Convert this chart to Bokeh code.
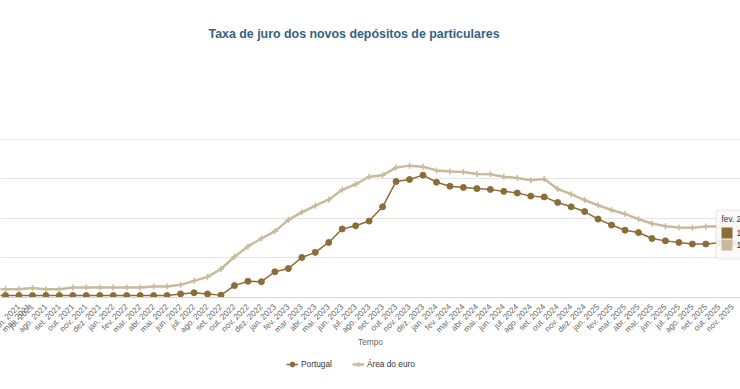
import math
from bokeh.plotting import figure
from bokeh.layouts import column
from bokeh.models import Range1d, FixedTicker, Legend, LegendItem, Label, BoxAnnotation
from bokeh.embed import file_html
from bokeh.resources import INLINE

# Monthly series, April 2021 to February 2026 (%)
month_abbr = ["jan.", "fev.", "mar.", "abr.", "mai.", "jun.",
              "jul.", "ago.", "set.", "out.", "nov.", "dez."]
periods = [(y, m) for y in range(2021, 2027) for m in range(12)]
periods = [p for p in periods if (2021, 3) <= p <= (2026, 1)]
months = [f"{month_abbr[m]} {y}" for (y, m) in periods]

portugal = [
    0.05, 0.05, 0.05, 0.05, 0.05, 0.05, 0.05, 0.05, 0.05,
    0.05, 0.05, 0.05, 0.05, 0.05, 0.09, 0.12, 0.09, 0.06, 0.30, 0.41, 0.40,
    0.65, 0.73, 1.01, 1.14, 1.39, 1.73, 1.81, 1.93, 2.29, 2.93, 2.98, 3.09,
    2.91, 2.81, 2.78, 2.75, 2.73, 2.68, 2.64, 2.56, 2.54, 2.40, 2.29, 2.17,
    1.98, 1.83, 1.70, 1.64, 1.49, 1.43, 1.39, 1.35, 1.35, 1.38, 1.37, 1.36,
    1.35, 1.34,
]
area_euro = [
    0.21, 0.21, 0.21, 0.24, 0.21, 0.21, 0.25, 0.25, 0.25,
    0.25, 0.25, 0.25, 0.28, 0.28, 0.32, 0.42, 0.52, 0.72, 1.03, 1.29, 1.49,
    1.67, 1.96, 2.15, 2.32, 2.47, 2.72, 2.86, 3.05, 3.09, 3.28, 3.33, 3.30,
    3.21, 3.18, 3.17, 3.12, 3.11, 3.05, 3.02, 2.96, 2.99, 2.74, 2.61, 2.46,
    2.33, 2.21, 2.11, 1.98, 1.87, 1.80, 1.77, 1.76, 1.79, 1.80, 1.79, 1.78,
    1.77, 1.76,
]
series_names = ["Portugal", "Área do euro"]
grid_values = [1, 2, 3, 4]

idx = list(range(len(months)))

W, H = 740, 389
LEGEND_H = 40
MAIN_H = H - LEGEND_H
FRAME_H = 297
PX_PER_MONTH = 13.468
PX_PER_UNIT = 39.6
x_start = 1 - 5 / PX_PER_MONTH
x_end = x_start + W / PX_PER_MONTH
y_end = FRAME_H / PX_PER_UNIT


def px_x(px):
    return x_start + px / PX_PER_MONTH


def px_y(py):
    return (FRAME_H - py) / PX_PER_UNIT


FONT = "Liberation Sans"
C_PT = "#8c6d37"
C_EA = "#c9ba9b"
PT_LINE = dict(line_color=C_PT, line_width=1.5)
PT_MARK = dict(marker="circle", size=6, fill_color=C_PT, line_color=C_PT)
EA_LINE = dict(line_color=C_EA, line_width=2.5)
EA_MARK = dict(marker="cross", size=6, line_color=C_EA, line_width=1.5)

p = figure(width=W, height=MAIN_H, x_range=Range1d(x_start, x_end),
           y_range=Range1d(0, y_end), y_axis_location=None,
           toolbar_location=None, output_backend="svg",
           min_border_left=0, min_border_right=0, min_border_top=0,
           min_border_bottom=MAIN_H - FRAME_H)
p.outline_line_color = None
p.background_fill_color = "white"
p.border_fill_color = "white"

p.xgrid.visible = False
p.ygrid.ticker = FixedTicker(ticks=grid_values)
p.ygrid.grid_line_color = "#e6e6e6"

ax = p.xaxis[0]
ax.ticker = FixedTicker(ticks=idx)
ax.major_label_overrides = {i: lab for i, lab in zip(idx, months)}
ax.major_label_orientation = math.pi / 4
ax.major_label_text_font = FONT
ax.major_label_text_font_size = "8.2px"
ax.major_label_text_color = "#666666"
ax.major_label_standoff = 2
ax.major_tick_line_color = None
ax.minor_tick_line_color = None
ax.axis_line_color = "#ccd6eb"
ax.axis_label = "Tempo"
ax.axis_label_text_font = FONT
ax.axis_label_text_font_size = "8.3px"
ax.axis_label_text_font_style = "normal"
ax.axis_label_text_color = "#666666"
ax.axis_label_standoff = -4

p.line(idx, area_euro, **EA_LINE)
p.scatter(idx, area_euro, **EA_MARK)
p.line(idx, portugal, **PT_LINE)
p.scatter(idx, portugal, **PT_MARK)

p.add_layout(Label(x=px_x(208), y=px_y(33), text="Taxa de juro dos novos depósitos de particulares",
                   text_font=FONT, text_font_size="12.4px", text_font_style="bold",
                   text_color="#34637f", text_baseline="middle"))

# Hover box for the last month
last = len(months) - 1
p.add_layout(BoxAnnotation(left=px_x(715.5), right=px_x(780), top=px_y(209.5), bottom=px_y(258.5),
                           fill_color="#fafafa", fill_alpha=0.92, line_color=C_EA,
                           line_width=1.2, border_radius=3))
p.add_layout(Label(x=px_x(721), y=px_y(218), text=months[last], text_font=FONT,
                   text_font_size="8.3px", text_color="#333333", text_baseline="middle"))
for k, (col, vals) in enumerate([(C_PT, portugal), (C_EA, area_euro)]):
    top = 227 + k * 12
    p.add_layout(BoxAnnotation(left=px_x(721), right=px_x(732), top=px_y(top), bottom=px_y(top + 11),
                               fill_color=col, fill_alpha=1, line_color=None))
    p.add_layout(Label(x=px_x(736), y=px_y(top + 5.5), text=f"{vals[last]:.2f} %".replace(".", ","),
                       text_font=FONT, text_font_size="8.3px", text_color="#333333",
                       text_baseline="middle"))

# Legend strip under the chart; its key glyphs sit outside the visible range
lg = figure(width=W, height=LEGEND_H, x_range=Range1d(0, 1), y_range=Range1d(0, 1),
            x_axis_location=None, y_axis_location=None,
            toolbar_location=None, output_backend="svg", min_border=0)
lg.outline_line_color = None
lg.grid.visible = False
items = []
for name, line_style, mark_style in [(series_names[0], PT_LINE, PT_MARK),
                                     (series_names[1], EA_LINE, EA_MARK)]:
    r1 = lg.line([-5, -4], [-5, -5], **line_style)
    r2 = lg.scatter([-5], [-5], **mark_style)
    items.append(LegendItem(label=name, renderers=[r1, r2]))
legend = Legend(items=items, orientation="horizontal",
                location=(286, H - 369.5),
                glyph_width=12, glyph_height=12, label_height=12, label_standoff=3,
                spacing=20, padding=0, margin=0,
                label_text_font=FONT, label_text_font_size="8.3px",
                label_text_color="#333333",
                border_line_color=None, background_fill_alpha=0)
lg.add_layout(legend, "center")

layout = column(p, lg, spacing=0)
open("out.html", "w").write(file_html(layout, INLINE))
